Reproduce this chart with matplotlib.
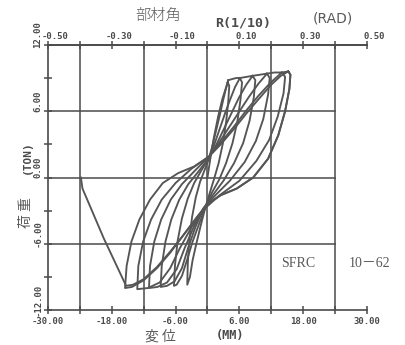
import matplotlib
matplotlib.use("Agg")
import matplotlib.pyplot as plt
from matplotlib.ticker import FixedLocator, FuncFormatter
from matplotlib.transforms import ScaledTranslation
from matplotlib.font_manager import FontProperties

# hysteresis loops: displacement (mm), load (ton)
virgin_x = [0.0, 0.5, 1.2, 2.0, 2.8, 3.4, 3.8]
virgin_y = [0.0, 1.6, 3.6, 5.5, 7.1, 8.0, 8.6]

loop1_x = [3.8, 4.1, 3.9, 3.5, 2.9, 2.1, 1.2, 0.3, -0.5, -1.3, -2.1, -2.8, -3.3, -3.8,
           -3.7, -3.4, -2.9, -2.2, -1.4, -0.6, 0.2, 0.9, 1.6, 2.3, 2.9, 3.4, 3.9]
loop1_y = [8.6, 8.3, 6.8, 5.0, 3.1, 1.3, -0.2, -1.6, -2.9, -4.4, -6.0, -7.5, -9.0, -9.7,
           -7.8, -5.6, -3.6, -1.8, -0.4, 0.6, 1.6, 2.8, 4.2, 5.6, 6.9, 7.9, 8.8]

loop2_x = [3.9, 4.6, 5.4, 6.1, 6.5, 6.2, 5.6, 4.7, 3.5, 2.2, 0.8, -0.3, -1.5, -2.8, -3.8, -4.8, -5.8, -6.3,
           -6.1, -5.6, -4.8, -3.7, -2.5, -1.2, 0.3, 1.3, 2.3, 3.3, 4.3, 5.2, 6.1]
loop2_y = [8.8, 8.9, 9.0, 9.0, 8.6, 7.0, 5.0, 3.1, 1.3, -0.2, -1.4, -2.6, -4.1, -5.8, -7.4, -8.9, -9.7, -9.8,
           -7.9, -5.7, -3.7, -1.9, -0.5, 0.6, 1.8, 3.0, 4.4, 5.8, 7.1, 8.2, 9.0]

loop3_x = [6.1, 7.3, 8.5, 9.0, 8.7, 7.9, 6.7, 5.0, 3.0, 1.0, -0.6, -2.2, -3.6, -4.8, -6.2, -7.6, -8.8,
           -8.6, -7.9, -6.8, -5.3, -3.6, -1.6, 0.3, 1.7, 3.1, 4.5, 5.9, 7.3, 8.5]
loop3_y = [9.0, 9.1, 9.2, 8.8, 7.2, 5.1, 3.1, 1.3, -0.3, -1.6, -2.7, -4.4, -6.3, -8.2, -9.4, -9.8, -9.9,
           -8.0, -5.8, -3.8, -2.0, -0.6, 0.6, 1.8, 3.0, 4.4, 5.8, 7.2, 8.4, 9.2]

loop4_x = [8.5, 9.9, 11.2, 11.7, 11.4, 10.5, 9.1, 7.0, 4.2, 1.5, -0.8, -2.6, -4.3, -5.8, -7.6, -9.4, -11.0,
           -10.8, -10.0, -8.7, -6.9, -4.8, -2.2, 0.3, 2.1, 4.0, 5.9, 7.8, 9.6, 11.2]
loop4_y = [9.2, 9.3, 9.4, 9.0, 7.5, 5.3, 3.3, 1.4, -0.3, -1.6, -2.8, -4.5, -6.4, -8.3, -9.5, -9.9, -10.0,
           -8.0, -5.8, -3.8, -2.0, -0.6, 0.7, 1.9, 3.1, 4.5, 5.9, 7.3, 8.5, 9.4]

loop5_x = [11.2, 12.6, 14.0, 14.6, 14.3, 13.2, 11.6, 9.2, 6.0, 2.3, -0.5, -3.0, -5.2, -7.0, -9.0, -11.2, -13.2,
           -13.0, -12.1, -10.6, -8.6, -6.0, -3.0, 0.3, 2.4, 4.8, 7.2, 9.6, 11.9, 14.0]
loop5_y = [9.4, 9.5, 9.5, 9.1, 7.6, 5.5, 3.4, 1.5, -0.3, -1.6, -2.8, -4.5, -6.4, -8.2, -9.5, -10.0, -10.1,
           -8.0, -5.8, -3.8, -2.0, -0.5, 0.8, 1.9, 3.1, 4.5, 6.0, 7.4, 8.6, 9.5]

loop6_x = [14.0, 15.2, 15.6, 15.4, 14.6, 13.3, 11.4, 8.6, 5.5, 2.5, 0.0, -2.0, -4.5, -7.0, -9.5, -12.0, -14.2, -15.5,
           -15.2, -14.3, -12.8, -10.8, -8.4, -5.5, -2.5, 0.3, 2.5, 5.0, 7.5, 10.0, 12.0, 13.8, 15.2]
loop6_y = [9.5, 9.6, 9.3, 8.0, 6.0, 3.8, 1.7, 0.0, -1.0, -1.6, -2.4, -3.6, -5.2, -6.8, -8.2, -9.3, -9.9, -10.0,
           -8.0, -5.8, -3.8, -2.0, -0.5, 0.4, 1.0, 1.9, 3.0, 4.4, 5.9, 7.3, 8.4, 9.2, 9.6]

# last excursion to failure
fail_x = [15.2, 15.6, 15.4, 14.6, 13.3, 11.4, 8.6, 5.5, 2.5, 0.0, -2.0, -4.5, -7.0, -9.5, -12.0, -14.0, -15.3, -19.5, -23.5, -23.8]
fail_y = [9.6, 9.3, 8.0, 6.0, 3.8, 1.7, 0.0, -1.0, -1.6, -2.4, -3.6, -5.2, -6.7, -8.1, -9.2, -9.7, -9.8, -5.5, -1.0, 0.0]

x_labels = {-30: "-30.00", -18: "-18.00", -6: "-6.00", 6: "6.00", 18: "18.00", 30: "30.00"}
y_labels = {12: "12.00", 6: "6.00", 0: "0.00", -6: "-6.00", -12: "-12.00"}
top_labels = {-0.5: "-0.50", -0.3: "-0.30", -0.1: "-0.10", 0.1: "0.10", 0.3: "0.30", 0.5: "0.50"}

ink = "#4a4a4a"
soft = "#5a5a5a"
tick_font = FontProperties(family="DejaVu Sans Mono", weight="bold", size=6.5)

fig = plt.figure(figsize=(4.06, 3.45), dpi=100)
ax = fig.add_axes([0.118, 0.101, 0.786, 0.769])
ax.set_xlim(-30, 30)
ax.set_ylim(-12, 12)

# grid
for gx in [-24, -12, 0, 12, 24]:
    ax.plot([gx, gx], [-12, 12], color=ink, lw=1.1, zorder=1)
for gy in [6, 0, -6]:
    ax.plot([-30, 24], [gy, gy], color=ink, lw=1.1, zorder=1)

curves = [(virgin_x, virgin_y), (loop1_x, loop1_y), (loop2_x, loop2_y), (loop3_x, loop3_y),
          (loop4_x, loop4_y), (loop5_x, loop5_y), (loop6_x, loop6_y), (fail_x, fail_y)]
for cx, cy in curves:
    ax.plot(cx, cy, color="#555555", lw=1.35, solid_joinstyle="round", zorder=2)

ax.spines["right"].set_visible(False)
for s in ["left", "bottom", "top"]:
    ax.spines[s].set_color(ink)
    ax.spines[s].set_linewidth(1.2)

ax.xaxis.set_major_locator(FixedLocator(list(range(-30, 31, 6))))
ax.xaxis.set_major_formatter(FuncFormatter(lambda v, p: x_labels.get(int(round(v)), "")))
ax.yaxis.set_major_locator(FixedLocator(list(range(-12, 13, 3))))
ax.yaxis.set_major_formatter(FuncFormatter(lambda v, p: y_labels.get(int(round(v)), "")))
ax.tick_params(direction="inout", length=6, width=1.1, color=ink, labelcolor=ink)
ax.tick_params(axis="x", top=False, pad=2)
ax.tick_params(axis="y", pad=1)

top = ax.secondary_xaxis("top", functions=(lambda v: v / 60.0, lambda v: v * 60.0))
top.xaxis.set_major_locator(FixedLocator([round(-0.5 + 0.1 * i, 1) for i in range(11)]))
top.xaxis.set_major_formatter(FuncFormatter(lambda v, p: top_labels.get(round(v, 1), "")))
top.tick_params(direction="inout", length=6, width=1.1, color=ink, labelcolor=ink, pad=0)
top.spines["top"].set_color(ink)
top.spines["top"].set_linewidth(1.2)

fig.canvas.draw()
up = ScaledTranslation(0, 10 / 100, fig.dpi_scale_trans)
right = ScaledTranslation(7 / 100, 0, fig.dpi_scale_trans)
for lab in ax.get_xticklabels():
    lab.set_fontproperties(tick_font)
for lab in ax.get_yticklabels():
    lab.set_fontproperties(tick_font)
    lab.set_rotation(90)
    lab.set_va("center")
    lab.set_transform(lab.get_transform() + up)
for lab in top.xaxis.get_ticklabels():
    lab.set_fontproperties(tick_font)
    lab.set_transform(lab.get_transform() + right)

cjk = ["Noto Sans CJK JP", "DejaVu Sans"]
fig.text(158 / 406, 1 - 16 / 345, "部材角", family=cjk, fontsize=11, color=soft,
         ha="center", va="center", fontweight="light")
fig.text(243 / 406, 1 - 23 / 345, "R(1/10)", family="DejaVu Sans Mono", fontweight="bold",
         fontsize=9.5, color=ink, ha="center", va="center")
fig.text(333 / 406, 1 - 19 / 345, "(RAD)", family="DejaVu Sans", fontsize=10, color=soft,
         ha="center", va="center")
fig.text(160 / 406, 1 - 337 / 345, "変 位", family=cjk, fontsize=10, color=soft,
         ha="center", va="center")
fig.text(230 / 406, 1 - 335 / 345, "(MM)", family="DejaVu Sans Mono", fontweight="bold",
         fontsize=8.5, color=ink, ha="center", va="center")
fig.text(27 / 406, 1 - 157 / 345, "(TON)", family="DejaVu Sans Mono", fontweight="bold",
         fontsize=8, color=ink, ha="center", va="center", rotation=90)
fig.text(26 / 406, 1 - 213 / 345, "荷 重", family=cjk, fontsize=10, color=soft,
         ha="center", va="center", rotation=90)
ax.text(17.0, -7.8, "SFRC", family=["Liberation Serif", "DejaVu Serif"], fontsize=10,
        color=soft, ha="center", va="center")
ax.text(30.5, -7.8, "10－62", family=["Liberation Serif", "Noto Sans CJK JP"], fontsize=10,
        color=soft, ha="center", va="center", clip_on=False)

fig.savefig("out.png", dpi=100, facecolor="white")
